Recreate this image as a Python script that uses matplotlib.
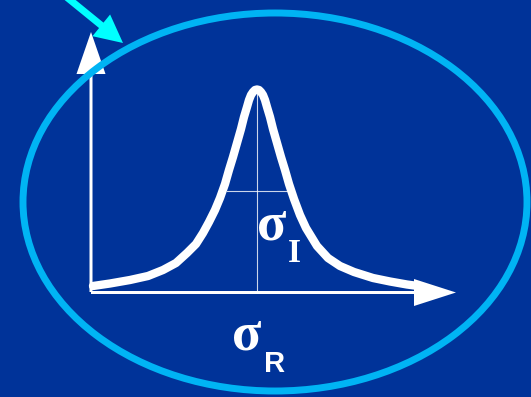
import numpy as np
import matplotlib
matplotlib.use("Agg")
import matplotlib.pyplot as plt
from matplotlib.patches import Ellipse

# colours
bg = "#003399"
ring = "#00B4F4"
cyan = "#00FFFF"

# Lorentzian-shaped line (pixel coords, y downwards)
curve_x = [93, 110, 130, 148, 163, 176, 187, 196, 203, 209, 215, 220, 225,
           229, 233, 237, 241, 244, 247, 249, 251, 253, 255, 257,
           259, 261, 263, 265, 267, 270, 273, 277, 281, 285, 289, 294, 300,
           306, 317, 328, 340, 354, 373, 390, 407, 418]
curve_y = [286, 283.5, 280, 276, 270, 263, 253, 244, 233, 222, 210, 198, 184,
           170, 157, 143, 129, 117, 107, 100, 95, 92, 90, 89.5,
           90, 92, 95, 100, 107, 117, 129, 143, 157, 170, 184, 199, 215,
           228, 246, 258, 266, 272, 278, 281.5, 284.5, 286]

peak_x = 257
peak_y = 90
half_y = 191
half_x = [227, 290]

fig = plt.figure(figsize=(5.31, 3.97), dpi=100)
fig.patch.set_facecolor(bg)
ax = fig.add_axes([0, 0, 1, 1])
ax.set_facecolor(bg)
ax.set_xlim(0, 531)
ax.set_ylim(397, 0)
ax.axis("off")

# big ellipse (sits on top of the axis arrows)
ax.add_patch(Ellipse((275, 202), 504, 378, fill=False, ec=ring, lw=5,
                     zorder=4.5))

# axes with arrows
ax.arrow(91, 292, 0, -260, width=3, head_width=29, head_length=42,
         length_includes_head=True, fc="white", ec="none", zorder=3)
ax.arrow(91, 292.5, 365, 0, width=3, head_width=27, head_length=42,
         length_includes_head=True, fc="white", ec="none", zorder=3)

# thin guide lines
ax.plot([peak_x, peak_x], [peak_y, 292], color="white", lw=0.8, alpha=0.8, zorder=2)
ax.plot(half_x, [half_y, half_y], color="white", lw=0.8, alpha=0.8, zorder=2)

# the line shape
ax.plot(curve_x, curve_y, color="white", lw=6, solid_capstyle="round",
        solid_joinstyle="round", zorder=4)

# cyan pointer arrow
ax.arrow(64, -5, 59, 48, width=7, head_width=28, head_length=28,
         length_includes_head=True, fc=cyan, ec="none", zorder=5)

# labels
ax.text(272, 226, "σ", color="white", fontsize=39, fontweight="bold",
        family="Liberation Serif", ha="center", va="center")
ax.text(294, 254, "I", color="white", fontsize=24, fontweight="bold",
        family="Liberation Serif", ha="center", va="center")
ax.text(247, 337, "σ", color="white", fontsize=39, fontweight="bold",
        family="Liberation Serif", ha="center", va="center")
ax.text(275, 364, "R", color="white", fontsize=21, fontweight="bold",
        family="Liberation Sans", ha="center", va="center")

fig.savefig("out.png", dpi=100, facecolor=bg)
